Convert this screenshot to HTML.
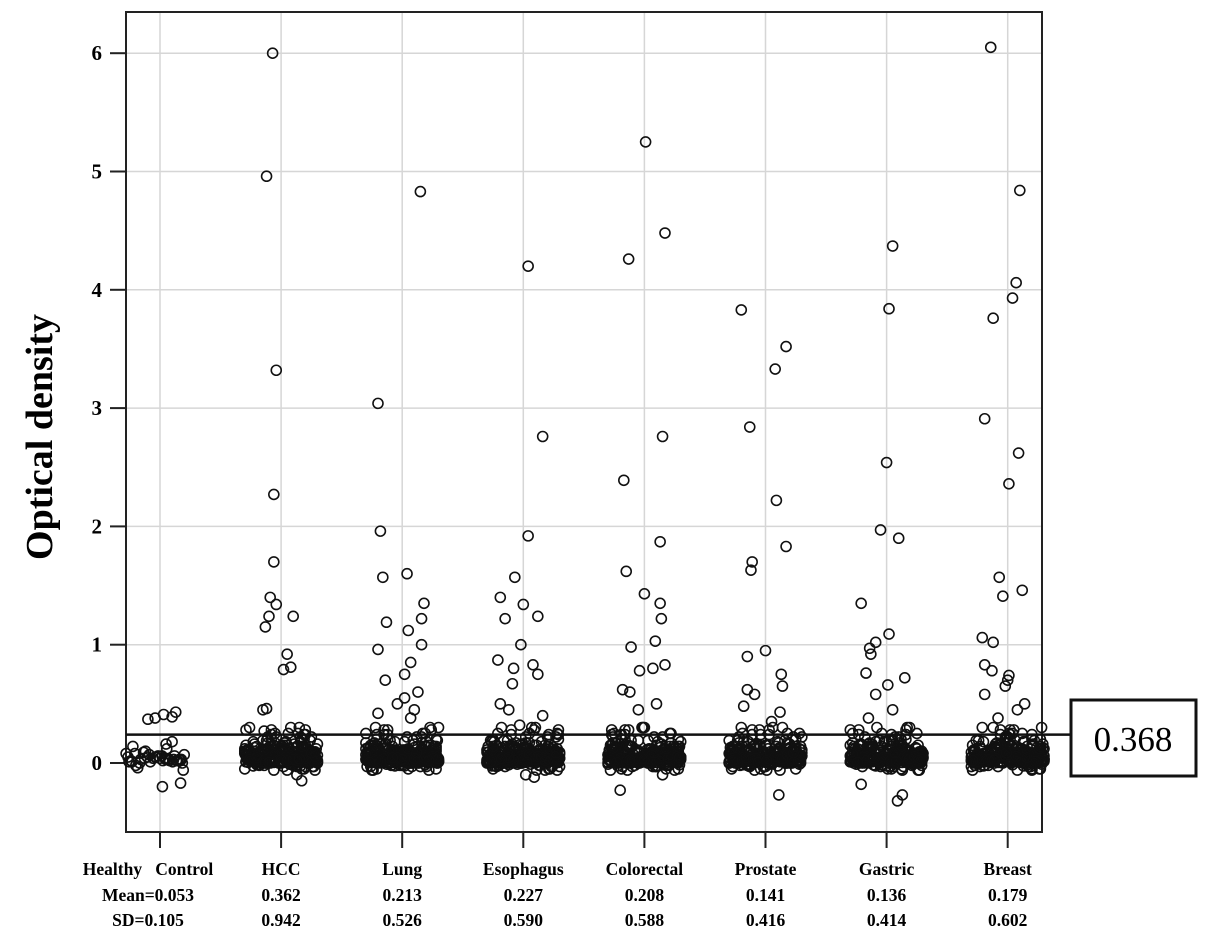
<!DOCTYPE html>
<html><head><meta charset="utf-8"><style>
html,body{margin:0;padding:0;background:#fff}
svg{display:block;font-family:"Liberation Serif",serif}
</style></head><body>
<svg id="chart" width="1205" height="943">
<g id="grid"></g>
<g id="axes"></g>
<g id="points"></g>
<text x="0" y="0" transform="translate(52,437) rotate(-90)" text-anchor="middle" font-size="38" font-weight="bold">Optical density</text>
</svg>
<script>
const categories = ["Healthy   Control","HCC","Lung","Esophagus","Colorectal","Prostate","Gastric","Breast"];
const means = ["Mean=0.053","0.362","0.213","0.227","0.208","0.141","0.136","0.179"];
const sds = ["SD=0.105","0.942","0.526","0.590","0.588","0.416","0.414","0.602"];
const yTicks = [0,1,2,3,4,5,6];
const threshold = 0.24;
const thresholdLabel = "0.368";
const outliers = [
 [[0.37,-0.1],[0.38,-0.04],[0.41,0.03],[0.39,0.1],[0.43,0.13],[-0.2,0.02],[-0.17,0.17],[0.16,0.05],[0.18,0.1]],
 [[6.0,-0.07],[4.96,-0.12],[3.32,-0.04],[2.27,-0.06],[1.70,-0.06],[1.40,-0.09],[1.34,-0.04],[1.24,-0.1],[1.15,-0.13],[1.24,0.1],[0.92,0.05],[0.81,0.08],[0.79,0.02],[0.45,-0.15],[0.46,-0.12],[-0.15,0.17],[-0.1,0.13],[0.27,-0.14],[0.22,0.16]],
 [[4.83,0.15],[3.04,-0.2],[1.96,-0.18],[1.57,-0.16],[1.60,0.04],[1.19,-0.13],[1.35,0.18],[1.22,0.16],[1.12,0.05],[1.0,0.16],[0.96,-0.2],[0.85,0.07],[0.7,-0.14],[0.6,0.13],[0.55,0.02],[0.5,-0.04],[0.42,-0.2],[0.38,0.07],[0.75,0.02],[0.45,0.1]],
 [[4.2,0.04],[2.76,0.16],[1.92,0.04],[1.57,-0.07],[1.40,-0.19],[1.34,0.0],[1.22,-0.15],[1.24,0.12],[1.0,-0.02],[0.87,-0.21],[0.83,0.08],[0.8,-0.08],[0.75,0.12],[0.67,-0.09],[0.5,-0.19],[0.4,0.16],[-0.1,0.02],[-0.12,0.09],[0.45,-0.12],[0.32,-0.03]],
 [[5.25,0.01],[4.48,0.17],[4.26,-0.13],[2.76,0.15],[2.39,-0.17],[1.87,0.13],[1.62,-0.15],[1.43,0.0],[1.35,0.13],[1.22,0.14],[1.03,0.09],[0.98,-0.11],[0.83,0.17],[0.8,0.07],[0.78,-0.04],[0.62,-0.18],[0.6,-0.12],[-0.23,-0.2],[0.5,0.1],[0.45,-0.05],[-0.1,0.15]],
 [[3.83,-0.2],[3.52,0.17],[3.33,0.08],[2.84,-0.13],[2.22,0.09],[1.83,0.17],[1.7,-0.11],[1.63,-0.12],[0.95,0.0],[0.9,-0.15],[0.75,0.13],[0.65,0.14],[0.62,-0.15],[0.58,-0.09],[0.48,-0.18],[-0.27,0.11],[0.43,0.12],[0.35,0.05]],
 [[4.37,0.05],[3.84,0.02],[2.54,0.0],[1.97,-0.05],[1.9,0.1],[1.35,-0.21],[1.09,0.02],[1.02,-0.09],[0.97,-0.14],[0.92,-0.13],[0.76,-0.17],[0.72,0.15],[0.66,0.01],[0.58,-0.09],[-0.18,-0.21],[-0.32,0.09],[-0.27,0.13],[0.45,0.05],[0.38,-0.15]],
 [[6.05,-0.14],[4.84,0.1],[4.06,0.07],[3.93,0.04],[3.76,-0.12],[2.91,-0.19],[2.62,0.09],[2.36,0.01],[1.57,-0.07],[1.46,0.12],[1.41,-0.04],[1.06,-0.21],[1.02,-0.12],[0.83,-0.19],[0.78,-0.13],[0.74,0.01],[0.7,0.0],[0.65,-0.02],[0.58,-0.19],[0.5,0.14],[0.45,0.08],[0.38,-0.08]]
];
const lowValues = [0.02,0.05,0.08,0.01,0.12,0.03,0.06,0.15,0.0,0.04,0.09,0.2,0.02,0.07,0.11,-0.03,0.05,0.13,0.01,0.18,0.06,0.03,0.1,0.25,0.04,0.0,0.08,0.14,-0.05,0.02,0.07,0.22,0.05,0.01,0.16,0.09,0.03,0.28,0.06,-0.02,0.12,0.04,0.19,0.08,0.0,0.1,0.3,0.03,0.06,0.14,-0.06,0.02,0.11,0.05,0.24,0.07,0.01,0.17,0.09,0.04];
const lowJitter = [-0.25,0.1,-0.05,0.2,-0.15,0.28,0.0,-0.3,0.15,-0.1,0.25,-0.2,0.05,0.3,-0.27,0.12,-0.08,0.22,-0.18,0.03,0.27,-0.12,0.18,-0.02,-0.23,0.08,0.29,-0.28,0.14,-0.06,0.23,-0.16,0.01,0.19,-0.24,0.07,-0.11,0.26,-0.21,0.11,-0.01,0.16,-0.29,0.21,-0.14,0.06,0.02,0.24,-0.19,-0.09,0.17,-0.26,0.09,-0.04,0.13,0.28,-0.22,-0.13,0.04,0.2];
const controlLow = [0.02,0.04,0.01,0.06,0.03,0.0,0.05,0.08,0.02,0.1,0.03,-0.02,0.04,0.07,0.01,0.12,0.05,0.02,-0.04,0.06,0.03,0.09,0.01,0.04,0.14,0.02,-0.06,0.05,0.03,0.07,0.02,0.0,0.05,0.03,0.01,0.06,0.04,0.02,0.08,0.03];

const L=126,R=1042,T=12,B=832;
const y = v => 763 - v*118.3;
const x = (i,j) => 160 + i*121.1 + j*121.1;
const NS="http://www.w3.org/2000/svg";
function mk(tag,attrs,parent){const e=document.createElementNS(NS,tag);for(const k in attrs)e.setAttribute(k,attrs[k]);parent.appendChild(e);return e;}
const grid=document.getElementById('grid'),axes=document.getElementById('axes'),pts=document.getElementById('points');
yTicks.forEach(t=>{
  const g=mk('line',{x1:L,x2:R,y1:y(t),y2:y(t),stroke:'#d6d6d6','stroke-width':1.5},grid);
  
  
  const tk=mk('line',{x1:110,x2:L,y1:y(t),y2:y(t),stroke:'#222','stroke-width':2},axes);
  
  
  const tl=mk('text',{x:102,y:y(t)+7,'text-anchor':'end','font-size':21,'font-weight':'bold'},axes);
  tl.textContent=t;
  
  
});
categories.forEach((c,i)=>{
  const cx=x(i,0);
  const g=mk('line',{x1:cx,x2:cx,y1:T,y2:B,stroke:'#d6d6d6','stroke-width':1.5},grid);
  
  
  const tk=mk('line',{x1:cx,x2:cx,y1:B,y2:848,stroke:'#222','stroke-width':2},axes);
  
  
  const lx = i===0?148:cx;
  [[c,875],[means[i],901],[sds[i],926]].forEach(([s,yy],k)=>{
    const t=mk('text',{x:lx,y:yy,'text-anchor':'middle','font-size':17.5,'font-weight':'bold',style:'white-space:pre'},axes);
    t.textContent=s;
    
    
  });
});
const frame=mk('rect',{x:L,y:T,width:R-L,height:B-T,fill:'none',stroke:'#222','stroke-width':2},axes);


function dot(i,v,j){
  const c=mk('circle',{cx:x(i,j),cy:y(v),r:5,fill:'none',stroke:'#111','stroke-width':1.6},pts);
  
  
}
categories.forEach((c,i)=>{
  if(i===0){
    controlLow.forEach((v,k)=>dot(0,v,lowJitter[k]*0.8-0.04));
  } else {
    for(let rep=0;rep<5;rep++){
      lowValues.forEach((v,k)=>dot(i,v*(rep>=3?0.5:1),lowJitter[(k+rep*17+i*5)%lowJitter.length]));
    }
  }
  outliers[i].forEach(([v,j])=>dot(i,v,j));
});
const th=mk('line',{x1:L,x2:1071,y1:y(threshold),y2:y(threshold),stroke:'#111','stroke-width':2.5},axes);


const bx=mk('rect',{x:1071,y:700,width:125,height:76,fill:'#fff',stroke:'#111','stroke-width':3},axes);


const bt=mk('text',{x:1133,y:751,'text-anchor':'middle','font-size':35},axes);
bt.textContent=thresholdLabel;


</script>
</body></html>
